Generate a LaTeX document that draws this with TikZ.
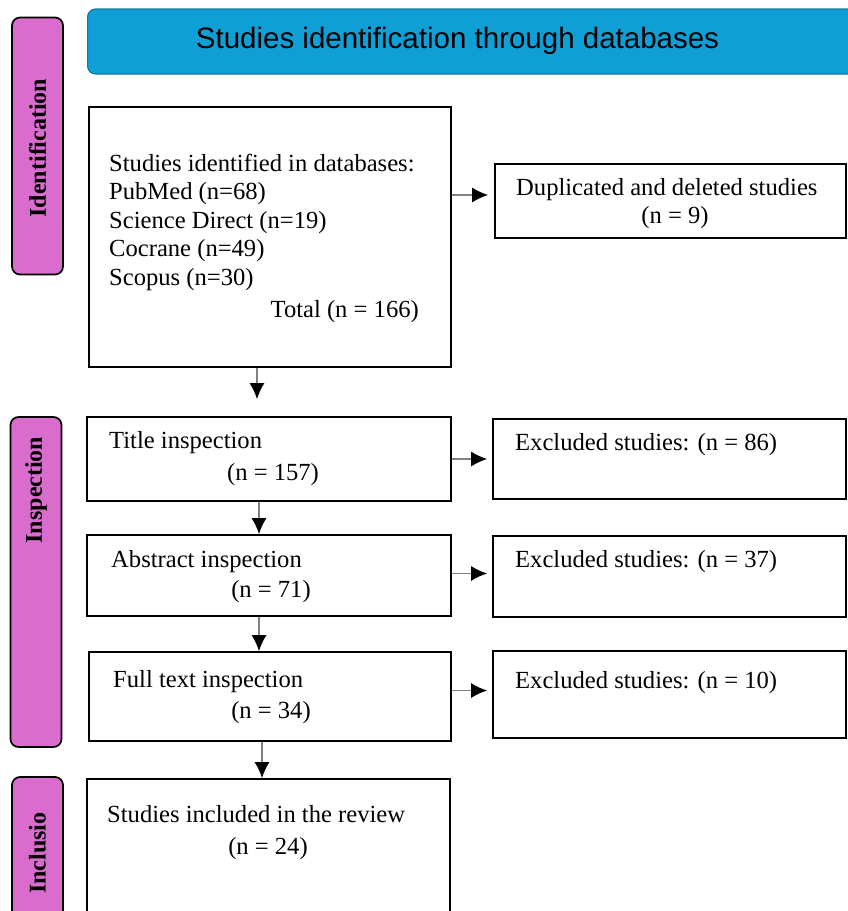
\documentclass[tikz,border=0pt]{standalone}
\usepackage{fontspec}
\setmainfont{Liberation Serif}
\newfontfamily\headfont{Liberation Sans}
\usetikzlibrary{arrows.meta}
\definecolor{tabpink}{RGB}{217,108,205}
\definecolor{headblue}{RGB}{16,159,213}
\definecolor{headedge}{RGB}{22,118,168}
\begin{document}
\begin{tikzpicture}[x=1pt, y=-1pt,
  box/.style={draw=black, line width=1.7pt, rectangle, inner sep=0pt},
  phase/.style={draw=black, line width=1.7pt, fill=tabpink, rounded corners=8pt, inner sep=0pt, minimum width=51pt},
  phasetxt/.style={rotate=90, inner sep=0pt, font=\fontsize{24}{28}\selectfont\bfseries},
  txt/.style={inner sep=0pt, text height=17.7pt, text depth=5.9pt, font=\fontsize{24.6}{28.5}\selectfont},
  arr/.style={draw=gray, line width=1.4pt, -{Latex[black, length=16pt, width=15pt]}}]
\useasboundingbox (0,0) rectangle (848,911);
\clip (0,0) rectangle (848,911);
% Kopfzeile
\node[draw=headedge, fill=headblue, line width=1.2pt, rounded corners=8pt, minimum width=800pt, minimum height=65pt, anchor=west] (head) at (87,41.5) {};
\node[anchor=base, inner sep=0pt, font=\headfont\fontsize{29.5}{34}\selectfont] (headT) at (457.5,48) {Studies identification through databases};
% Phasen
\node[phase, minimum height=257pt] (tabId) at (37.5,146) {};
\node[phasetxt] (tabIdT) at (37.5,148) {Identification};
\node[phase, minimum height=330pt] (tabIn) at (36,582) {};
\node[phasetxt] (tabInT) at (36,490) {Inspection};
\node[phase, minimum height=170pt] (tabInc) at (37.5,862) {};
\node[phasetxt] (tabIncT) at (37.5,853) {Inclusio};
% Identifikation
\node[box, minimum width=362pt, minimum height=260pt] (ident) at (270,237) {};
\node[txt, text height=, text depth=, align=left, anchor=west] (identT) at (109,222)
  {Studies identified in databases:\\PubMed (n=68)\\Science Direct (n=19)\\Cocrane (n=49)\\Scopus (n=30)};
\node[txt, anchor=east] (identN) at (419,312) {Total (n = 166)};
\node[box, minimum width=351pt, minimum height=74pt] (dup) at (670.5,201) {};
\node[txt, anchor=west] (dupT) at (516,190) {Duplicated and deleted studies};
\node[txt] (dupN) at (675,218) {(n = 9)};
% Inspektion
\node[box, minimum width=364pt, minimum height=84pt] (title) at (269,459) {};
\node[txt, anchor=west] (titleT) at (109,443) {Title inspection};
\node[txt] (titleN) at (273,475) {(n = 157)};
\node[box, minimum width=353pt, minimum height=80pt] (excl1) at (669.5,459) {};
\node[txt, anchor=west] (excl1T) at (515,445) {Excluded studies: (n = 86)};
\node[box, minimum width=364pt, minimum height=81pt] (abstr) at (269,575.5) {};
\node[txt, anchor=west] (abstrT) at (111,562) {Abstract inspection};
\node[txt] (abstrN) at (271,592) {(n = 71)};
\node[box, minimum width=353pt, minimum height=81pt] (excl2) at (669.5,576.5) {};
\node[txt, anchor=west] (excl2T) at (515,562) {Excluded studies: (n = 37)};
\node[box, minimum width=362pt, minimum height=89pt] (full) at (270,696.5) {};
\node[txt, anchor=west] (fullT) at (113,682) {Full text inspection};
\node[txt] (fullN) at (271,713) {(n = 34)};
\node[box, minimum width=353pt, minimum height=87pt] (excl3) at (669.5,694.5) {};
\node[txt, anchor=west] (excl3T) at (515,683) {Excluded studies: (n = 10)};
% Einschluss
\node[box, minimum width=363pt, minimum height=182pt] (incl) at (268.5,870) {};
\node[txt, anchor=west] (inclT) at (107,817) {Studies included in the review};
\node[txt] (inclN) at (268,849) {(n = 24)};
% Pfeile
\draw[arr, shorten >=17pt] ([xshift=-13pt]ident.south) -- ([xshift=-12pt]title.north);
\draw[arr] ([xshift=-10pt]title.south) -- ([xshift=-10pt]abstr.north);
\draw[arr] ([xshift=-10pt]abstr.south) -- ([xshift=-11pt]full.north);
\draw[arr] ([xshift=-8pt]full.south) -- ([xshift=-6.5pt]incl.north);
\draw[arr, shorten >=6pt] ([yshift=6pt]dup.west -| ident.east) -- ([yshift=6pt]dup.west);
\draw[arr, shorten >=5pt] (title.east) -- (excl1.west);
\draw[arr, shorten >=5pt] ([yshift=3pt]excl2.west -| abstr.east) -- ([yshift=3pt]excl2.west);
\draw[arr, shorten >=5pt] ([yshift=4pt]excl3.west -| full.east) -- ([yshift=4pt]excl3.west);
\end{tikzpicture}
\end{document}
